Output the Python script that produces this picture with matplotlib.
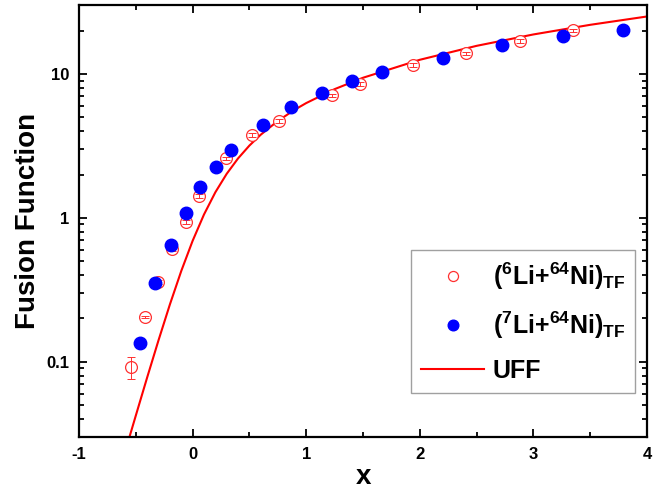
import matplotlib
matplotlib.use("Agg")
import matplotlib.pyplot as plt
from matplotlib.ticker import FixedLocator, LogLocator, NullFormatter, MultipleLocator

plt.rcParams['font.family'] = ['Liberation Sans', 'DejaVu Sans']
plt.rcParams['font.weight'] = 'bold'
plt.rcParams['axes.unicode_minus'] = False
plt.rcParams['mathtext.fontset'] = 'custom'
plt.rcParams['mathtext.rm'] = 'Liberation Sans:bold'
plt.rcParams['mathtext.bf'] = 'Liberation Sans:bold'
plt.rcParams['mathtext.it'] = 'Liberation Sans:bold'

# 6Li + 64Ni reduced fusion function
x_li6 = [-0.542, -0.419, -0.305, -0.181, -0.061, 0.056, 0.291, 0.526, 0.761,
         1.23, 1.47, 1.943, 2.41, 2.88, 3.35]
f_li6 = [0.092, 0.205, 0.359, 0.61, 0.942, 1.41, 2.59, 3.79, 4.73,
         7.1, 8.56, 11.5, 13.9, 17.0, 20.1]
err_li6 = [0.016, 0.004, 0.012, 0.02, 0.03, 0.045, 0.08, 0.12, 0.15,
           0.22, 0.26, 0.35, 0.42, 0.5, 0.6]

# 7Li + 64Ni reduced fusion function
x_li7 = [-0.463, -0.328, -0.193, -0.061, 0.068, 0.209, 0.338, 0.617, 0.869,
         1.136, 1.40, 1.665, 2.20, 2.72, 3.26, 3.786]
f_li7 = [0.135, 0.355, 0.652, 1.08, 1.64, 2.27, 2.97, 4.42, 5.89,
         7.38, 8.94, 10.4, 13.0, 15.8, 18.5, 20.3]

# universal fusion function curve
x_uff = [-0.556, -0.5, -0.4, -0.3, -0.2, -0.1, 0.0, 0.1, 0.2, 0.3, 0.4, 0.5,
         0.6, 0.75, 0.9, 1.0, 1.25, 1.5, 2.0, 2.5, 3.0, 3.5, 4.0]
f_uff = [0.030, 0.0423, 0.0779, 0.1413, 0.2505, 0.4276, 0.693, 1.056, 1.507,
         2.026, 2.592, 3.184, 3.79, 4.721, 5.66, 6.285, 7.855, 9.425, 12.566,
         15.708, 18.85, 21.99, 25.13]

fig = plt.figure(figsize=(6.72, 4.92), dpi=100)
ax = fig.add_axes([0.1176, 0.1118, 0.8452, 0.8772])

red = '#ff3030'
h6, = ax.plot(x_li6, f_li6, 'o', mfc='white', mec=red, ms=8.5, mew=0.9,
              label=r'$(^{6}$Li+$^{64}$Ni$)_{\rm TF}$', zorder=3)
# error bars drawn on top so the caps show through the open circles
ax.errorbar(x_li6, f_li6, yerr=err_li6, fmt='none', ecolor=red,
            elinewidth=0.7, capsize=3, capthick=0.7, zorder=3.5)
h7, = ax.plot(x_li7, f_li7, 'o', color='#0000ff', ms=9, mec='#0000ff',
              label=r'$(^{7}$Li+$^{64}$Ni$)_{\rm TF}$', zorder=4)
hu, = ax.plot(x_uff, f_uff, '-', color='#ff0000', lw=1.5, label='UFF',
              zorder=2)

ax.set_yscale('log')
ax.set_xlim(-1, 4)
ax.set_ylim(0.03, 30)

ax.xaxis.set_major_locator(MultipleLocator(1))
ax.xaxis.set_minor_locator(MultipleLocator(0.5))
ax.yaxis.set_major_locator(FixedLocator([0.1, 1, 10]))
ax.yaxis.set_minor_locator(LogLocator(base=10, subs=range(2, 10)))
ax.yaxis.set_minor_formatter(NullFormatter())
ax.yaxis.set_major_formatter(lambda v, pos: f'{v:g}')

ax.tick_params(which='both', direction='in', top=True, right=True,
               labelsize=12, width=1.3)
ax.tick_params(which='major', length=6, pad=7)
ax.tick_params(which='minor', length=3.5)
for sp in ax.spines.values():
    sp.set_linewidth(1.6)

ax.set_xlabel('x', fontsize=20, fontweight='bold', labelpad=2)
ax.set_ylabel('Fusion Function', fontsize=20, fontweight='bold', labelpad=4)

leg = ax.legend(handles=[h6, h7, hu], loc='lower right',
                bbox_to_anchor=(0.945, 0.2012), bbox_transform=fig.transFigure,
                fontsize=18, frameon=True, fancybox=False, edgecolor='#888888',
                borderaxespad=0, handlelength=2.5, handletextpad=0.35,
                labelspacing=0.72, borderpad=0.4, markerscale=0.85)
leg.get_frame().set_linewidth(1.0)

fig.savefig('out.png', dpi=100)
